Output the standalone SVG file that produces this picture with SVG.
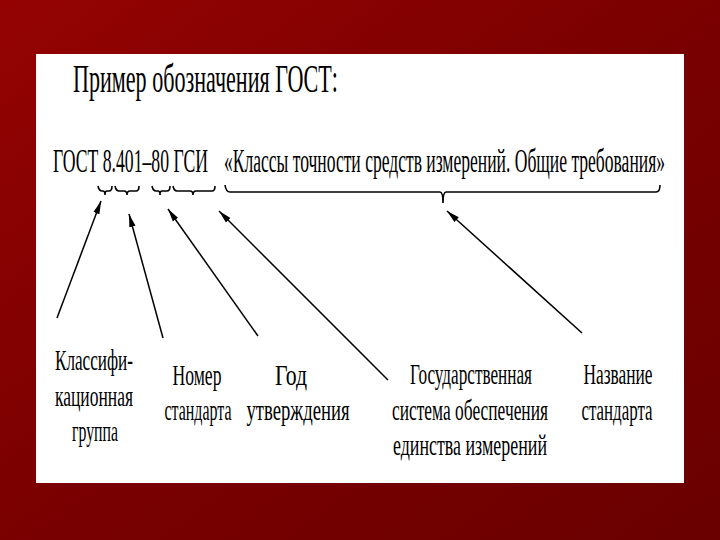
<svg xmlns="http://www.w3.org/2000/svg" width="720" height="540" viewBox="0 0 720 540">
<defs>
<linearGradient id="bg" x1="0" y1="0" x2="1" y2="1">
<stop offset="0" stop-color="#950303"/>
<stop offset="0.5" stop-color="#7a0000"/>
<stop offset="1" stop-color="#6a0000"/>
</linearGradient>
<marker id="ah" markerUnits="userSpaceOnUse" markerWidth="14" markerHeight="8" refX="13" refY="4" orient="auto">
<path d="M0,0.8 L13,4 L0,7.2 Z" fill="#000"/>
</marker>
<style>
.t{font-family:"Liberation Serif","Times New Roman",serif;fill:#000}
.title{font-size:39px}
.row{font-size:34px}
.lb{font-size:29px;text-anchor:middle}
.br{fill:none;stroke:#000;stroke-width:1.6}
.ar{stroke:#000;stroke-width:1.5;fill:none;marker-end:url(#ah)}
</style>
</defs>
<rect x="0" y="0" width="720" height="540" fill="url(#bg)"/>
<rect x="36" y="54" width="648" height="429" fill="#fff"/>
<g id="title" transform="scale(0.57 1)">
<text class="t title" x="128.07" y="92" textLength="464.9" lengthAdjust="spacingAndGlyphs">Пример обозначения ГОСТ:</text>
</g>
<g id="designation" transform="scale(0.57 1)">
<text class="t row" x="92.98" y="172" textLength="271.9" lengthAdjust="spacingAndGlyphs">ГОСТ 8.401–80 ГСИ</text>
<text class="t row" x="392.98" y="172" textLength="773.7" lengthAdjust="spacingAndGlyphs">«Классы точности средств измерений. Общие требования»</text>
</g>
<g id="braces">
<path class="br" d="M98,186 Q99,191 102,191 L103,191 Q105,191 105,195 Q105,191 107,191 L109,191 Q112,191 112,186"/>
<path class="br" d="M115,186 Q116,191 119,191 L124,191 Q127,191 127,195 Q127,191 130,191 L136,191 Q139,191 139,186"/>
<path class="br" d="M152,186 Q153,191 156,191 L158,191 Q160,191 160,195 Q160,191 162,191 L167,191 Q170,191 170,186"/>
<path class="br" d="M173,186 Q174,191 177,191 L190,191 Q193,191 193,195 Q193,191 196,191 L212,191 Q215,191 215,186"/>
<path class="br" d="M225,185 Q226,192 230,192 L440,192 Q443,192 443,203 Q443,192 446,192 L656,192 Q660,192 660,185"/>
</g>
<g id="connectors">
<line class="ar" x1="57" y1="318" x2="101" y2="201"/>
<line class="ar" x1="163" y1="338" x2="129" y2="214"/>
<line class="ar" x1="258" y1="336" x2="168" y2="209"/>
<line class="ar" x1="388" y1="380" x2="219" y2="211"/>
<line class="ar" x1="582" y1="333" x2="447" y2="211"/>
</g>
<g id="n-class" transform="scale(0.57 1)">
<text class="t lb" x="164.91" y="370" textLength="136.84" lengthAdjust="spacingAndGlyphs">Классифи-</text>
<text class="t lb" x="164.91" y="406" textLength="136.84" lengthAdjust="spacingAndGlyphs">кационная</text>
<text class="t lb" x="166.67" y="441" textLength="80.70" lengthAdjust="spacingAndGlyphs">группа</text>
</g>
<g id="n-number" transform="scale(0.57 1)">
<text class="t lb" x="345.61" y="385" textLength="85.96" lengthAdjust="spacingAndGlyphs">Номер</text>
<text class="t lb" x="347.37" y="420" textLength="117.54" lengthAdjust="spacingAndGlyphs">стандарта</text>
</g>
<g id="n-year" transform="scale(0.57 1)">
<text class="t lb" x="510.53" y="385" textLength="56.14" lengthAdjust="spacingAndGlyphs">Год</text>
<text class="t lb" x="522.81" y="420" textLength="180.70" lengthAdjust="spacingAndGlyphs">утверждения</text>
</g>
<g id="n-gsi" transform="scale(0.57 1)">
<text class="t lb" x="826.32" y="384" textLength="214.04" lengthAdjust="spacingAndGlyphs">Государственная</text>
<text class="t lb" x="824.56" y="420" textLength="273.68" lengthAdjust="spacingAndGlyphs">система обеспечения</text>
<text class="t lb" x="824.56" y="455" textLength="270.18" lengthAdjust="spacingAndGlyphs">единства измерений</text>
</g>
<g id="n-name" transform="scale(0.57 1)">
<text class="t lb" x="1084.21" y="384" textLength="121.05" lengthAdjust="spacingAndGlyphs">Название</text>
<text class="t lb" x="1082.46" y="420" textLength="124.56" lengthAdjust="spacingAndGlyphs">стандарта</text>
</g>
</svg>
